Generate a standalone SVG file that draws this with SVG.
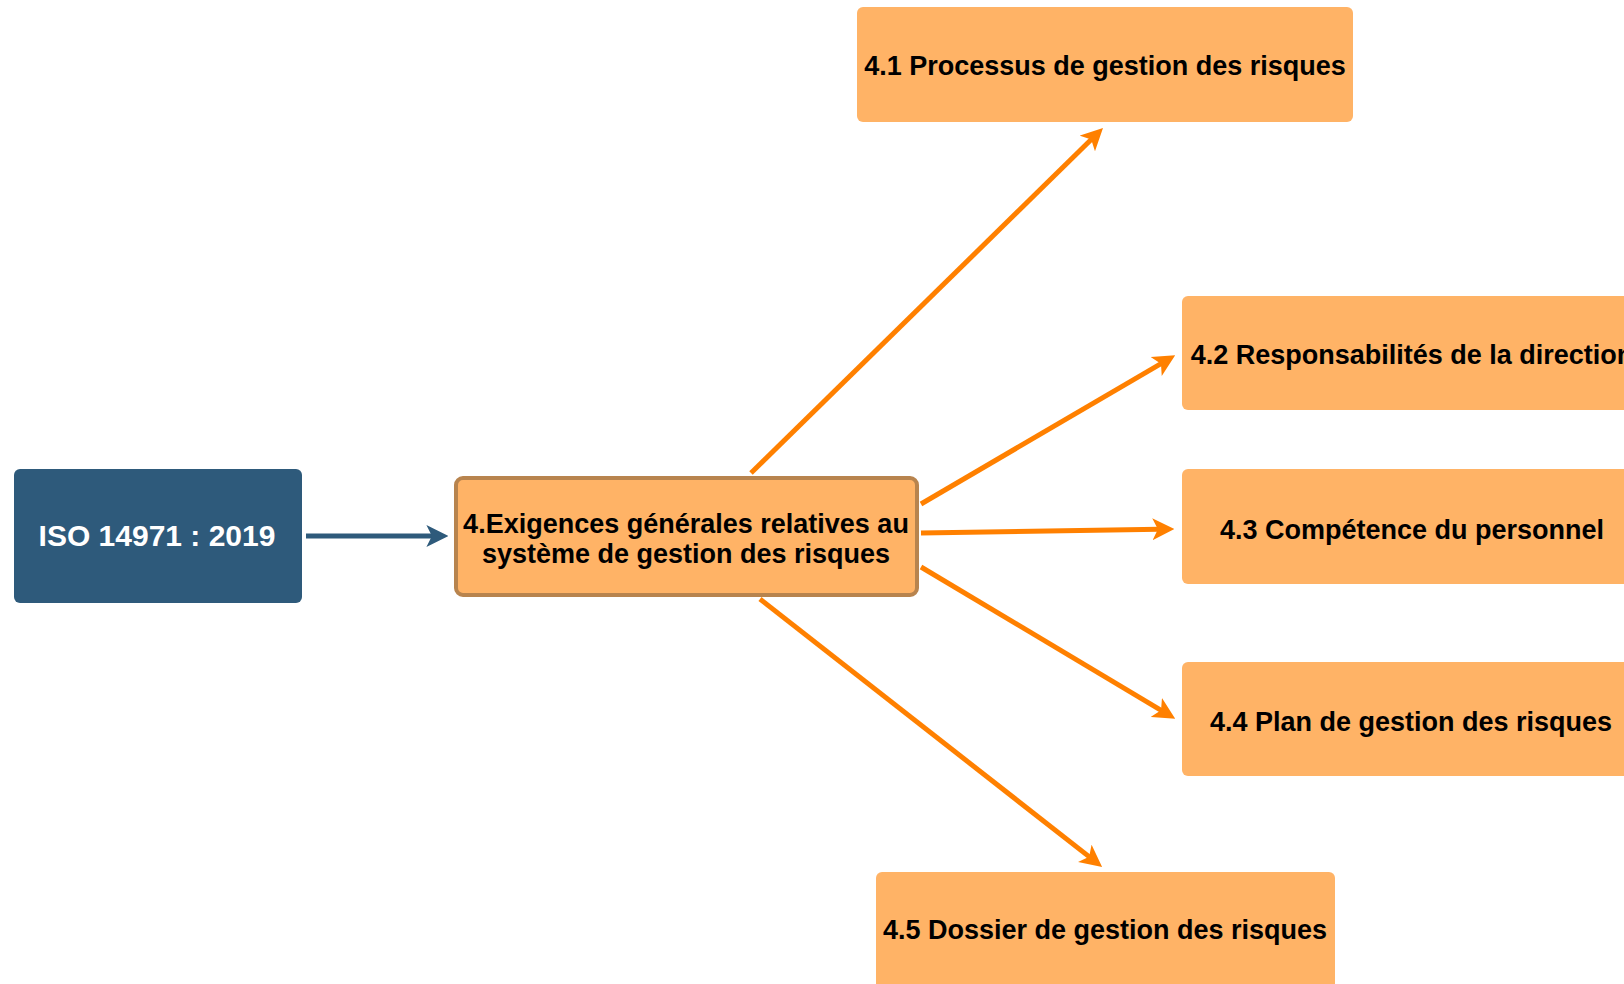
<svg xmlns="http://www.w3.org/2000/svg" width="1624" height="984" viewBox="0 0 1624 984">
  <style>
    .box { fill: #FFB366; }
    .lbl { font-family: "Liberation Sans", Arial, Helvetica, sans-serif; font-weight: bold; font-size: 27px; fill: #000000; text-anchor: middle; }
    .edge { fill: none; stroke: #FF8000; stroke-width: 5; marker-end: url(#arrow-orange); }
  </style>
  <defs>
    <marker id="arrow-orange" viewBox="0 0 20 20" markerUnits="userSpaceOnUse" markerWidth="22" markerHeight="23" refX="6" refY="10" orient="auto">
      <path d="M0,0 L20,10 L0,20 L5,10 Z" fill="#FF8000"/>
    </marker>
    <marker id="arrow-blue" viewBox="0 0 20 20" markerUnits="userSpaceOnUse" markerWidth="22" markerHeight="23" refX="6" refY="10" orient="auto">
      <path d="M0,0 L20,10 L0,20 L5,10 Z" fill="#2E5A7B"/>
    </marker>
  </defs>

  <rect width="1624" height="984" fill="#FFFFFF"/>

  <!-- connectors -->
  <g id="connectors">
    <line x1="306" y1="536" x2="433" y2="536" stroke="#2E5A7B" stroke-width="5" marker-end="url(#arrow-blue)"/>
    <line class="edge" x1="751" y1="473" x2="1092" y2="138.8"/>
    <line class="edge" x1="921" y1="504" x2="1161.9" y2="363.1"/>
    <line class="edge" x1="921" y1="533" x2="1159" y2="529.2"/>
    <line class="edge" x1="921" y1="567" x2="1162" y2="710.8"/>
    <line class="edge" x1="760" y1="599" x2="1090" y2="857.4"/>
  </g>

  <!-- root node -->
  <g id="iso">
    <rect x="14" y="469" width="288" height="134" rx="6" fill="#2E5A7B"/>
    <text x="157" y="546" font-family="Liberation Sans, Arial, Helvetica, sans-serif" font-weight="bold" font-size="30" fill="#FFFFFF" text-anchor="middle">ISO 14971 : 2019</text>
  </g>

  <!-- central node -->
  <g id="exigences">
    <rect x="456" y="478" width="461" height="117" rx="7" fill="#FFB366" stroke="#B8844E" stroke-width="4"/>
    <text class="lbl" x="686" y="533">4.Exigences générales relatives au</text>
    <text class="lbl" x="686" y="563">système de gestion des risques</text>
  </g>

  <g id="n41">
    <rect class="box" x="857" y="7" width="496" height="115" rx="6"/>
    <text class="lbl" x="1105" y="75">4.1 Processus de gestion des risques</text>
  </g>

  <g id="n42">
    <rect class="box" x="1182" y="296" width="470" height="114" rx="6"/>
    <text class="lbl" x="1412" y="364">4.2 Responsabilités de la direction</text>
  </g>

  <g id="n43">
    <rect class="box" x="1182" y="469" width="470" height="115" rx="6"/>
    <text class="lbl" x="1412" y="539">4.3 Compétence du personnel</text>
  </g>

  <g id="n44">
    <rect class="box" x="1182" y="662" width="470" height="114" rx="6"/>
    <text class="lbl" x="1411" y="731">4.4 Plan de gestion des risques</text>
  </g>

  <g id="n45">
    <rect class="box" x="876" y="872" width="459" height="120" rx="6"/>
    <text class="lbl" x="1105" y="939">4.5 Dossier de gestion des risques</text>
  </g>
</svg>
